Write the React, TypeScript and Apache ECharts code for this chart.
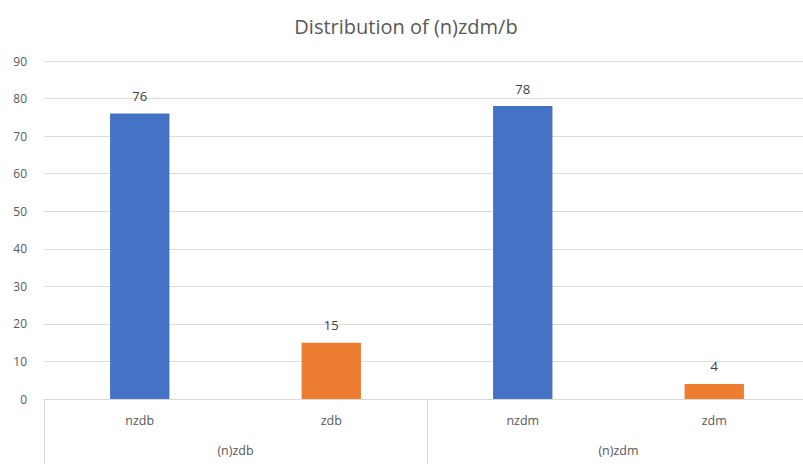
import React, { useEffect, useRef } from "react";
import * as echarts from "echarts";

const categories = ["nzdb", "zdb", "nzdm", "zdm"];
const groups = ["(n)zdb", "(n)zdm"];
const values = [76, 15, 78, 4];
const barColors = ["#4472C4", "#ED7D31", "#4472C4", "#ED7D31"];

const FONT = "'Open Sans', 'Liberation Sans', sans-serif";

export default function App() {
  const ref = useRef<HTMLDivElement>(null);
  useEffect(() => {
    if (!ref.current) return;
    const chart = echarts.init(ref.current, undefined, { renderer: "svg" });
    chart.setOption({
      animation: false,
      backgroundColor: "#ffffff",
      title: {
        text: "Distribution of (n)zdm/b",
        left: 401,
        textAlign: "center",
        top: 11,
        textStyle: { fontFamily: FONT, fontSize: 20, fontWeight: "normal", color: "#595959" },
      },
      grid: {
        left: 44,
        width: 766,
        top: 61,
        bottom: 65,
        containLabel: false,
        outerBoundsMode: "none",
      },
      xAxis: [
        {
          type: "category",
          data: categories,
          position: "bottom",
          axisLine: { show: true, lineStyle: { color: "#d9d9d9", width: 1 } },
          axisTick: { show: false },
          axisLabel: { margin: 15, fontFamily: FONT, fontSize: 12.5, color: "#595959" },
        },
        {
          type: "category",
          data: groups,
          position: "bottom",
          axisLine: { show: false },
          axisTick: { show: true, length: 65, lineStyle: { color: "#d9d9d9", width: 1 } },
          axisLabel: { margin: 45, fontFamily: FONT, fontSize: 12.5, color: "#595959" },
        },
      ],
      yAxis: {
        type: "value",
        min: 0,
        max: 90,
        interval: 10,
        axisLine: { show: false },
        axisTick: { show: false },
        splitLine: { lineStyle: { color: "#dcdcdc", width: 1 } },
        axisLabel: { margin: 17, fontFamily: FONT, fontSize: 12, color: "#595959" },
      },
      series: [
        {
          type: "bar",
          xAxisIndex: 0,
          barWidth: "31%",
          data: values.map((v, i) => ({ value: v, itemStyle: { color: barColors[i] } })),
          label: {
            show: true,
            position: "top",
            distance: 11,
            fontFamily: FONT,
            fontSize: 13,
            color: "#404040",
          },
        },
      ],
    });
    return () => chart.dispose();
  }, []);
  return <div ref={ref} style={{ width: 803, height: 464, position: "absolute", left: 0, top: 0, overflow: "hidden" }} />;
}
